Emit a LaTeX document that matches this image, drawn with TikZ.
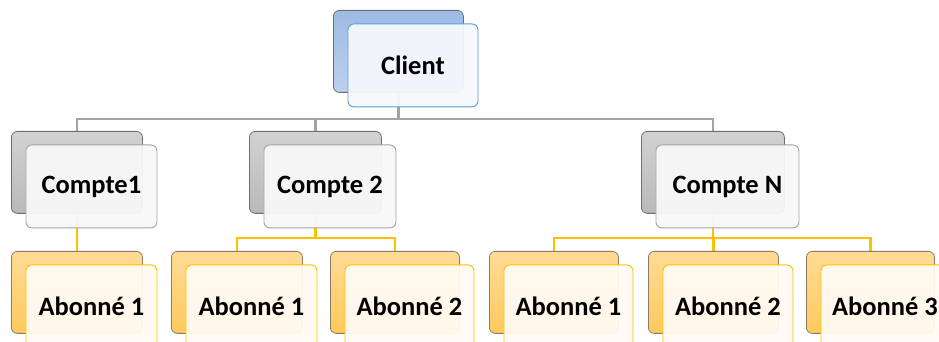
\documentclass[tikz,border=0pt]{standalone}
\usepackage{fontspec}
\setmainfont{Carlito}
\pgfdeclarelayer{background}
\pgfsetlayers{background,main}

\definecolor{blueTop}{HTML}{9EBBE4}
\definecolor{blueBot}{HTML}{BCD0EE}
\definecolor{blueLine}{HTML}{5B9BD5}
\definecolor{blueFill}{HTML}{F5F8FC}
\definecolor{greyTop}{HTML}{D2D2D2}
\definecolor{greyBot}{HTML}{B9B9B9}
\definecolor{greyLine}{HTML}{A3A3A3}
\definecolor{greyFill}{HTML}{F8F8F8}
\definecolor{orTop}{HTML}{FFDB96}
\definecolor{orBot}{HTML}{FFCA5C}
\definecolor{orLine}{HTML}{FFC000}
\definecolor{orFill}{HTML}{FFFAF2}
\definecolor{backEdge}{HTML}{6E6E6E}
\definecolor{orEdge}{HTML}{8A7C62}

\tikzset{
  backbox/.style={draw=backEdge, line width=0.8pt, rounded corners=6pt,
    minimum height=82pt, inner sep=0pt, anchor=north west},
  frontbox/.style={rounded corners=6pt, minimum height=83pt, inner sep=0pt,
    line width=0.9pt, fill opacity=0.95, text opacity=1, anchor=north west,
    font=\bfseries\fontsize{26.5}{32}\selectfont},
  bluelevel/.style={top color=blueTop, bottom color=blueBot},
  greylevel/.style={top color=greyTop, bottom color=greyBot},
  orlevel/.style={top color=orTop, bottom color=orBot, draw=orEdge},
  bluefront/.style={draw=blueLine, fill=blueFill},
  greyfront/.style={draw=greyLine, fill=greyFill},
  orfront/.style={draw=orLine, fill=orFill},
  greylink/.style={draw=greyLine, line width=2.4pt},
  orlink/.style={draw=orLine, line width=2.2pt},
}

% back card at image position (x, y-from-top), width w; front card offset
\newcommand{\cardpair}[7]{%
  \node[backbox,#5,minimum width=#4pt] (#1b) at (#2,342-#3) {};
  \node[frontbox,#6,minimum width=#4pt] (#1f)
    at ([xshift=14.5pt,yshift=-13.5pt]#1b.north west) {#7};
}

\begin{document}
\begin{tikzpicture}[x=1pt,y=1pt]
\useasboundingbox (0,0) rectangle (939,342);
\clip (0,0) rectangle (939,342);

\cardpair{cl}{333}{10}{130}{bluelevel}{bluefront}{Client}
\cardpair{ca}{11}{131}{131}{greylevel}{greyfront}{Compte1}
\cardpair{cb}{249}{131}{132}{greylevel}{greyfront}{Compte 2}
\cardpair{cn}{641}{131}{143}{greylevel}{greyfront}{Compte N}
\cardpair{aa}{11}{251}{131}{orlevel}{orfront}{Abonné 1}
\cardpair{ba}{171}{251}{131}{orlevel}{orfront}{Abonné 1}
\cardpair{bb}{330}{251}{129}{orlevel}{orfront}{Abonné 2}
\cardpair{na}{489}{251}{129}{orlevel}{orfront}{Abonné 1}
\cardpair{nb}{648}{251}{130}{orlevel}{orfront}{Abonné 2}
\cardpair{nc}{806}{251}{128}{orlevel}{orfront}{Abonné 3}

\coordinate (gbar) at (0,342-119);
\coordinate (obar) at (0,342-238);

\begin{pgfonlayer}{background}
  % client to accounts
  \draw[greylink] (clb.south) -- (clb.south |- gbar);
  \draw[greylink] (cab.north) |- (cnb.north |- gbar) -- (cnb.north);
  \draw[greylink] (cbb.north) -- (cbb.north |- gbar);
  % accounts to subscribers
  \draw[orlink] (cab.south) -- (aab.north);
  \draw[orlink] (cbb.south) -- (cbb.south |- obar);
  \draw[orlink] (bab.north) |- (bbb.north |- obar) -- (bbb.north);
  \draw[orlink] (cnb.south) -- (cnb.south |- obar);
  \draw[orlink] (nab.north) |- (ncb.north |- obar) -- (ncb.north);
  \draw[orlink] (nbb.north) -- (nbb.north |- obar);
\end{pgfonlayer}
\end{tikzpicture}
\end{document}
